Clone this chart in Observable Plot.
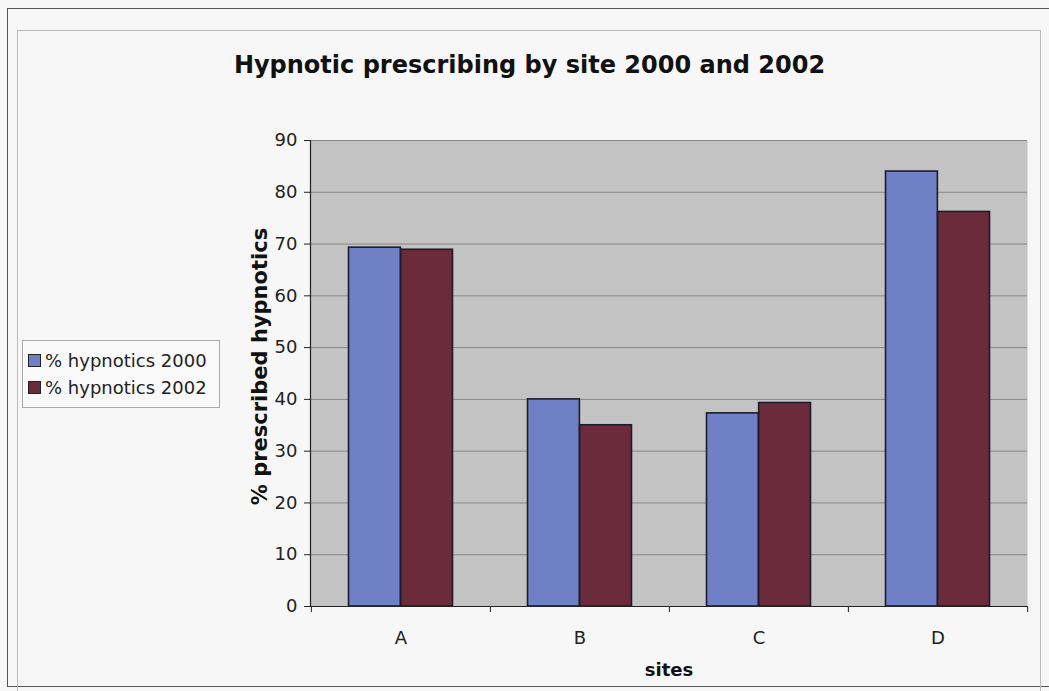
<!DOCTYPE html>
<html>
<head>
<meta charset="utf-8">
<script src="https://cdn.jsdelivr.net/npm/d3@7"></script>
<script src="https://cdn.jsdelivr.net/npm/@observablehq/plot@0.6"></script>
<style>
  html, body { margin: 0; padding: 0; background: #f7f7f7; }
  #page { position: relative; width: 1049px; height: 691px; overflow: hidden; font-family: "DejaVu Sans", Verdana, sans-serif; }
  #outer { position: absolute; left: 7px; top: 8px; width: 1060px; height: 679px; border: 1.5px solid #555; box-sizing: border-box; }
  #inner { position: absolute; left: 17px; top: 30px; width: 1024px; height: 680px; border: 1px solid #bbb; box-sizing: border-box; }
  #title { position: absolute; left: 10px; width: 1039px; top: 53px; line-height: 24px; text-align: center; font-weight: bold; font-size: 24px; color: #111; }
  #chart { position: absolute; left: 0; top: 110px; }
  #legend { position: absolute; left: 22px; top: 340px; width: 198px; height: 68px; border: 1px solid #aaa; background: #f9f9f9; box-sizing: border-box; padding: 6px 0 0 5px; font-size: 18px; color: #222; }
  .item { display: flex; align-items: center; height: 27px; }
  .sw { width: 11px; height: 11px; border: 1.5px solid #222; margin-right: 4px; }
</style>
</head>
<body>
<div id="page">
  <div id="outer"></div>
  <div id="inner"></div>
  <div id="title">Hypnotic prescribing by site 2000 and 2002</div>
  <div id="chart"></div>
  <div id="legend"></div>
</div>
<script>
const sites = ["A", "B", "C", "D"];
const years = ["2000", "2002"];
const seriesNames = ["% hypnotics 2000", "% hypnotics 2002"];
const values2000 = [69.3, 40.0, 37.3, 84.0];
const values2002 = [68.9, 35.0, 39.3, 76.2];
const yTicks = [0, 10, 20, 30, 40, 50, 60, 70, 80, 90];
const colors = ["#6f80c6", "#6b2b3a"];

const rows2000 = sites.map((s, i) => ({site: s, year: years[0], value: values2000[i]}));
const rows2002 = sites.map((s, i) => ({site: s, year: years[1], value: values2002[i]}));

const W = 1049, H = 581, mL = 310, mR = 22, mT = 30, mB = 85;
const step = (W - mL - mR) / sites.length;
const gap = 0.72;
const bw = step / (2 + 2 * gap);
const outer = gap * bw;

const chart = Plot.plot({
  width: W, height: H,
  marginLeft: mL, marginRight: mR, marginTop: mT, marginBottom: mB,
  style: {fontFamily: "DejaVu Sans, Verdana, sans-serif", fontSize: "18px", background: "transparent", color: "#222"},
  x: {domain: sites, padding: 0, axis: null, label: null},
  y: {domain: [0, 90], axis: null, label: null},
  color: {domain: years, range: colors},
  marks: [
    Plot.frame({fill: "#c3c3c3", stroke: null}),
    Plot.gridY(yTicks, {stroke: "#868686", strokeOpacity: 1, strokeWidth: 1}),
    Plot.barY(rows2000, {x: "site", y: "value", fill: "year", stroke: "#1c1c2c", strokeWidth: 1.6,
      insetLeft: outer, insetRight: step - outer - bw}),
    Plot.barY(rows2002, {x: "site", y: "value", fill: "year", stroke: "#1c1c2c", strokeWidth: 1.6,
      insetLeft: outer + bw, insetRight: outer}),
    Plot.ruleY([0], {stroke: "#222", strokeWidth: 1.2}),
    Plot.frame({anchor: "left", stroke: "#222", strokeWidth: 1.2}),
    Plot.axisY(yTicks, {tickSize: 6, tickPadding: 7, fontSize: 18, stroke: "#222", fill: "#222", label: null}),
    Plot.axisX({tickSize: 6, text: null, dx: -step / 2, stroke: "#222", label: null}),
    Plot.axisX(["D"], {tickSize: 6, text: null, dx: step / 2, stroke: "#222", label: null}),
    Plot.axisX({tickSize: 0, tickPadding: 25, fontSize: 18, fill: "#222", label: null}),
    Plot.text(["% prescribed hypnotics"], {frameAnchor: "left", textAnchor: "middle", rotate: -90, dx: -50, dy: -7, fontSize: 21, fontWeight: "bold", fill: "#111"}),
    Plot.text(["sites"], {frameAnchor: "bottom", dy: 69, fontSize: 18, fontWeight: "bold", fill: "#111"})
  ]
});
document.getElementById("chart").appendChild(chart);

const legend = document.getElementById("legend");
seriesNames.forEach((name, i) => {
  const item = document.createElement("div");
  item.className = "item";
  const sw = document.createElement("span");
  sw.className = "sw";
  sw.style.background = colors[i];
  const t = document.createElement("span");
  t.textContent = name;
  item.appendChild(sw);
  item.appendChild(t);
  legend.appendChild(item);
});
</script>
</body>
</html>
